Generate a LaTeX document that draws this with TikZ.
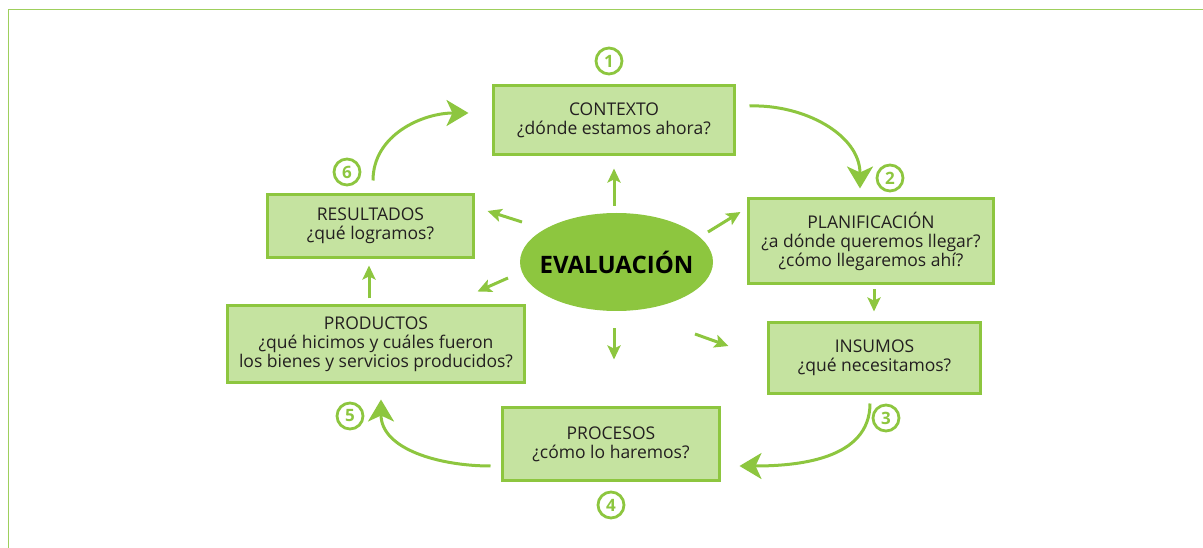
\documentclass[tikz,border=0pt]{standalone}
\usepackage{fontspec}
\setmainfont{Open Sans}
\usetikzlibrary{arrows.meta,shapes.geometric}
\definecolor{verde}{RGB}{141,198,63}
\definecolor{verdeclaro}{RGB}{197,227,160}
\definecolor{texto}{RGB}{35,31,32}
\tikzset{
  etapa/.style={draw=verde, fill=verdeclaro, line width=3pt, align=center,
    text=texto, inner sep=0pt, font=\fontsize{17.5}{19}\selectfont},
  numero/.style={circle, draw=verde, line width=2.8pt, minimum size=26pt,
    inner sep=0pt, text=verde, font=\fontsize{17}{17}\selectfont\bfseries},
  ciclo/.style={draw=verde, line width=3pt, -{Stealth[length=22pt,width=26pt,inset=6pt]}},
  radial/.style={draw=verde, line width=3pt, -{Stealth[length=14pt,width=13pt,inset=3pt]}},
}
\begin{document}
\begin{tikzpicture}[x=1pt,y=-1pt]
      \useasboundingbox (0,0) rectangle (1203,548);
      % marco
      \draw[verde!85, line width=1.5pt] (8.5,548) -- (8.5,9.5) -- (1203,9.5);
      % etapas
      \node[etapa, minimum width=241pt, minimum height=69pt] (contexto) at (614,120)
        {CONTEXTO\\¿dónde estamos ahora?};
      \node[etapa, minimum width=245pt, minimum height=85pt] (planif) at (871,241)
        {PLANIFICACIÓN\\¿a dónde queremos llegar?\\¿cómo llegaremos ahí?};
      \node[etapa, minimum width=212pt, minimum height=71pt] (insumos) at (874.5,358)
        {INSUMOS\\¿qué necesitamos?};
      \node[etapa, minimum width=217pt, minimum height=73pt] (procesos) at (611,444)
        {PROCESOS\\¿cómo lo haremos?};
      \node[etapa, minimum width=297pt, minimum height=77pt] (productos) at (376,344)
        {PRODUCTOS\\¿qué hicimos y cuáles fueron\\los bienes y servicios producidos?};
      \node[etapa, minimum width=206pt, minimum height=63pt] (resultados) at (370.5,226)
        {RESULTADOS\\¿qué logramos?};
      \node[ellipse, fill=verde, minimum width=193pt, minimum height=98pt, inner sep=0pt,
        font=\fontsize{24}{24}\selectfont\bfseries] (eval) at (616.5,262)
        {\makebox[0pt]{EVALUACIÓN}};
      % numeros
      \node[numero] (n1) at (609,61) {1};
      \node[numero] (n2) at (890,178) {2};
      \node[numero] (n3) at (886,418) {3};
      \node[numero] (n4) at (611,505) {4};
      \node[numero] (n5) at (350,416) {5};
      \node[numero] (n6) at (347,172) {6};
      % ciclo
      \draw[ciclo] ([shift={(2.5,-12.5)}]resultados.north) to[out=90,in=180]
        ([shift={(-23.5,-7)}]contexto.west);
      \draw[ciclo] ([shift={(13.5,-14)}]contexto.east) to[out=2,in=90]
        ([shift={(-11,-8.5)}]planif.north);
      \draw[radial] ([shift={(3,4.5)}]planif.south) -- ([shift={(-0.5,-9.5)}]insumos.north);
      \draw[ciclo] ([shift={(-4.5,8.5)}]insumos.south) to[out=-90,in=0]
        ([shift={(18.5,22)}]procesos.east);
      \draw[ciclo] ([shift={(-10.5,22)}]procesos.west) to[out=180,in=-90]
        ([shift={(5,15.5)}]productos.south);
      \draw[radial] ([shift={(-7,-5.5)}]productos.north) -- ([shift={(-1.5,6.5)}]resultados.south);
      % evaluacion hacia cada etapa
      \draw[radial] ([shift={(-2.5,-56)}]eval.center) -- ([shift={(0,12.5)}]contexto.south);
      \draw[radial] ([shift={(-94.5,-40)}]eval.center) -- ([shift={(12.5,-15)}]resultados.east);
      \draw[radial] ([shift={(91.5,-30)}]eval.center) -- ([shift={(-6.5,-29)}]planif.west);
      \draw[radial] ([shift={(-108.5,16)}]eval.center) -- ([shift={(-48.5,-12.5)}]productos.north east);
      \draw[radial] ([shift={(-2.5,66)}]eval.center) -- ([shift={(3,-46.5)}]procesos.north);
      \draw[radial] ([shift={(78.5,72)}]eval.center) -- ([shift={(-38.5,-12)}]insumos.west);
    \end{tikzpicture}
\end{document}
